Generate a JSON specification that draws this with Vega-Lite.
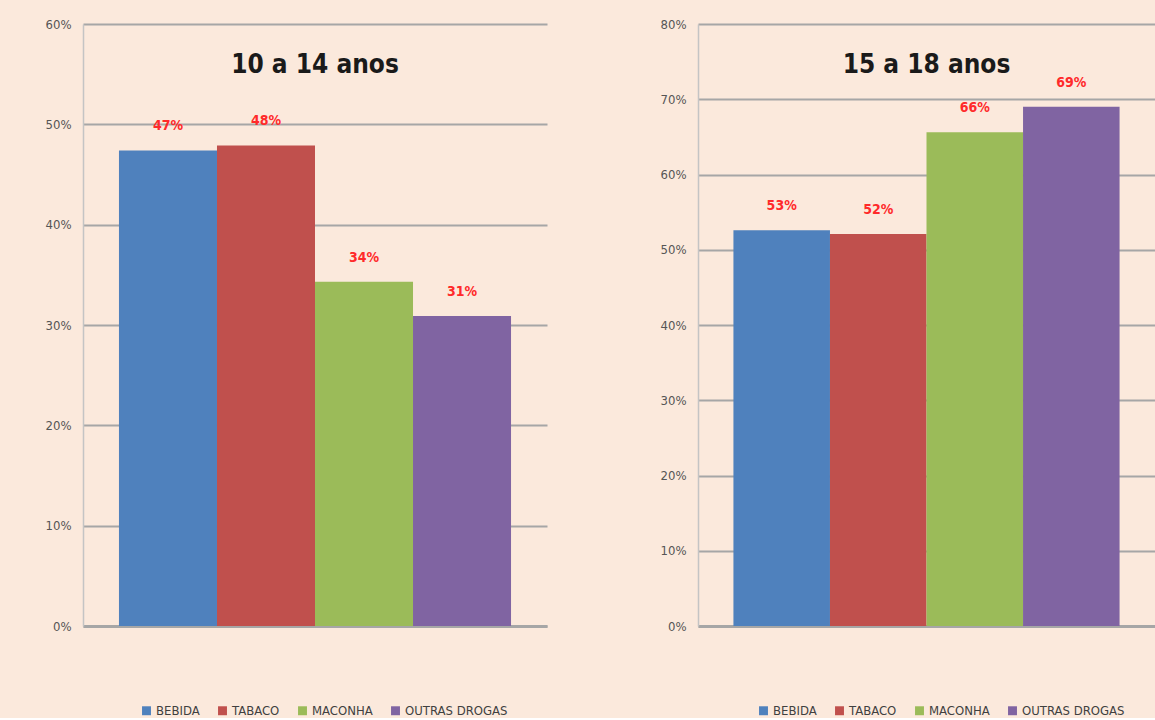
{
  "$schema": "https://vega.github.io/schema/vega-lite/v6.json",
  "background": "#fbe9dc",
  "padding": {"left": 45, "top": 18, "right": 0, "bottom": 0},
  "bounds": "flush",
  "spacing": 151,
  "config": {
    "font": "Liberation Sans Narrow, DejaVu Sans Condensed, Roboto, sans-serif",
    "view": {"stroke": null},
    "axisY": {
      "grid": true, "gridColor": "#a6a6a6", "gridWidth": 2,
      "domain": true, "domainColor": "#c4c4c4", "domainWidth": 1.5,
      "ticks": false, "labelPadding": 12, "labelFontSize": 13,
      "labelColor": "#555555", "title": null, "format": ".0%"
    },
    "axisX": {
      "labels": false, "ticks": false, "title": null,
      "domain": true, "domainColor": "#a6a6a6", "domainWidth": 3
    },
    "legend": {
      "orient": "none", "direction": "horizontal", "title": null,
      "symbolType": "square", "symbolSize": 80, "symbolStrokeWidth": 0,
      "labelFontSize": 13, "labelColor": "#404040", "columnPadding": 16,
      "labelOffset": 3
    },
    "title": {"fontSize": 26, "fontWeight": "bold", "color": "#1a1a1a", "frame": "group", "anchor": "middle", "offset": -60}
  },
  "datasets": {
    "a": [
      {"categoria": "BEBIDA", "ordem": 1, "valor": 0.474},
      {"categoria": "TABACO", "ordem": 2, "valor": 0.479},
      {"categoria": "MACONHA", "ordem": 3, "valor": 0.343},
      {"categoria": "OUTRAS DROGAS", "ordem": 4, "valor": 0.309}
    ],
    "b": [
      {"categoria": "BEBIDA", "ordem": 1, "valor": 0.526},
      {"categoria": "TABACO", "ordem": 2, "valor": 0.521},
      {"categoria": "MACONHA", "ordem": 3, "valor": 0.656},
      {"categoria": "OUTRAS DROGAS", "ordem": 4, "valor": 0.69}
    ]
  },
  "hconcat": [
    {
      "width": 464, "height": 602,
      "title": {"text": "10 a 14 anos"},
      "data": {"name": "a"},
      "encoding": {
        "x": {"field": "categoria", "type": "nominal", "sort": ["BEBIDA", "TABACO", "MACONHA", "OUTRAS DROGAS"], "scale": {"paddingInner": 0, "paddingOuter": 0.367}},
        "y": {"field": "valor", "type": "quantitative", "scale": {"domain": [0, 0.6], "nice": false}, "axis": {"values": [0, 0.1, 0.2, 0.3, 0.4, 0.5, 0.6]}}
      },
      "layer": [
        {
          "mark": {"type": "bar"},
          "encoding": {
            "color": {"field": "categoria", "type": "nominal", "scale": {"domain": ["BEBIDA", "TABACO", "MACONHA", "OUTRAS DROGAS"], "range": ["#4f81bd", "#c0504d", "#9bbb59", "#8064a2"]}, "legend": {"legendX": 57, "legendY": 680}}
          }
        },
        {
          "mark": {"type": "text", "dy": -24, "baseline": "middle", "fontWeight": "bold", "fontSize": 14, "color": "#ff2a2a"},
          "encoding": {"text": {"field": "valor", "type": "quantitative", "format": ".0%"}}
        }
      ]
    },
    {
      "width": 457, "height": 602,
      "title": {"text": "15 a 18 anos"},
      "data": {"name": "b"},
      "encoding": {
        "x": {"field": "categoria", "type": "nominal", "sort": ["BEBIDA", "TABACO", "MACONHA", "OUTRAS DROGAS"], "scale": {"paddingInner": 0, "paddingOuter": 0.367}},
        "y": {"field": "valor", "type": "quantitative", "scale": {"domain": [0, 0.8], "nice": false}, "axis": {"values": [0, 0.1, 0.2, 0.3, 0.4, 0.5, 0.6, 0.7, 0.8]}}
      },
      "layer": [
        {
          "mark": {"type": "bar"},
          "encoding": {
            "color": {"field": "categoria", "type": "nominal", "scale": {"domain": ["BEBIDA", "TABACO", "MACONHA", "OUTRAS DROGAS"], "range": ["#4f81bd", "#c0504d", "#9bbb59", "#8064a2"]}, "legend": {"legendX": 59, "legendY": 680}}
          }
        },
        {
          "mark": {"type": "text", "dy": -24, "baseline": "middle", "fontWeight": "bold", "fontSize": 14, "color": "#ff2a2a"},
          "encoding": {"text": {"field": "valor", "type": "quantitative", "format": ".0%"}}
        }
      ]
    }
  ],
  "resolve": {"scale": {"y": "independent", "color": "independent"}, "legend": {"color": "independent"}}
}
